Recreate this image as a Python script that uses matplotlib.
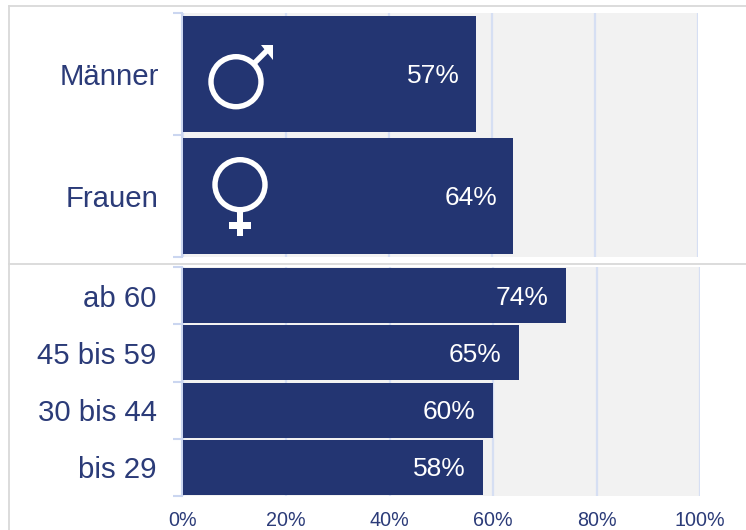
import matplotlib
matplotlib.use("Agg")
import matplotlib.pyplot as plt
from matplotlib.patches import Circle, Polygon, Rectangle
from matplotlib.lines import Line2D

gender_labels = ["Männer", "Frauen"]
gender_values = [57, 64]
age_labels = ["ab 60", "45 bis 59", "30 bis 44", "bis 29"]
age_values = [74, 65, 60, 58]
x_ticks = [0, 20, 40, 60, 80, 100]
x_tick_labels = ["0%", "20%", "40%", "60%", "80%", "100%"]
# real bar lengths slightly off the rounded labels
gender_drawn = [56.9, 64.1]
age_drawn = [74.1, 65.0, 60.0, 58.1]

W, H = 746, 530
NAVY = "#233572"
TEXT = "#2b3b78"
GRID = "#d6dff3"
AXIS = "#cbd6f0"
BACK = "#f2f2f2"
FRAME = "#d9d9d9"

plt.rcParams["font.family"] = ["Liberation Sans", "DejaVu Sans"]
fig = plt.figure(figsize=(W / 100, H / 100), dpi=100, facecolor="white")


def box(x0, x1, y0, y1):
    return [x0 / W, 1 - y1 / H, (x1 - x0) / W, (y1 - y0) / H]


def panel(rect, labels, drawn, shown, height, label_pad, value_offset):
    ax = fig.add_axes(rect, facecolor=BACK)
    n = len(labels)
    ypos = list(range(n))
    ax.set_xlim(0, 100)
    ax.set_ylim(n - 0.5, -0.5)
    ax.set_axisbelow(True)
    ax.grid(axis="x", color=GRID, linewidth=1.6)
    ax.barh(ypos, drawn, height=height, color=NAVY, zorder=3)
    for s in ("top", "right", "bottom"):
        ax.spines[s].set_visible(False)
    ax.spines["left"].set_color(AXIS)
    ax.spines["left"].set_linewidth(1.5)
    ax.spines["left"].set_position(("outward", 0.6))
    ax.set_yticks(ypos)
    ax.set_yticklabels(labels, fontsize=21.2, color=TEXT, ha="right")
    ax.tick_params(axis="y", which="major", length=0, pad=label_pad)
    ax.set_yticks([i - 0.5 for i in range(n + 1)], minor=True)
    ax.tick_params(axis="y", which="minor", length=6.5, width=1.5, color=AXIS)
    ax.set_xticks(x_ticks)
    for y, d, v in zip(ypos, drawn, shown):
        ax.annotate(f"{v}%", (d, y), xytext=(value_offset, 0.4),
                    textcoords="offset points", ha="right", va="center_baseline",
                    color="white", fontsize=19, zorder=4)
    return ax


top = panel(box(183, 698, 13, 257), gender_labels, gender_drawn, gender_values,
            0.95, 17, -11.6)
top.tick_params(axis="x", length=0, labelbottom=False)

bottom = panel(box(182.5, 700, 267, 496), age_labels, age_drawn, age_values,
               0.96, 18, -12.6)
bottom.set_xticklabels(x_tick_labels, fontsize=14.2, color=TEXT)
bottom.tick_params(axis="x", length=0, pad=11)

# Overlay in pixel coordinates for the panel frame lines and the gender symbols
ov = fig.add_axes([0, 0, 1, 1], facecolor="none", zorder=10)
ov.set_xlim(0, W)
ov.set_ylim(H, 0)
ov.axis("off")

for xs, ys in [((8.5, 8.5), (5.5, H)), ((8.5, W), (5.5, 5.5)), ((8.5, W), (263.5, 263.5))]:
    ov.add_line(Line2D(xs, ys, color=FRAME, linewidth=1.3))

# male symbol
ov.add_patch(Circle((236, 81.7), 25, fill=False, edgecolor="white", linewidth=3.9))
ov.add_line(Line2D((254, 267), (63.5, 50.5), color="white", linewidth=3.9, solid_capstyle="butt"))
ov.add_patch(Polygon([(260.5, 45), (272.5, 45), (272.5, 60)], closed=True, color="white", linewidth=0))

# female symbol
ov.add_patch(Circle((240, 184.7), 25, fill=False, edgecolor="white", linewidth=3.9))
ov.add_patch(Rectangle((237, 211), 6, 25, color="white", linewidth=0))
ov.add_patch(Rectangle((229, 222), 22, 6.5, color="white", linewidth=0))

fig.savefig("out.png", dpi=100)
